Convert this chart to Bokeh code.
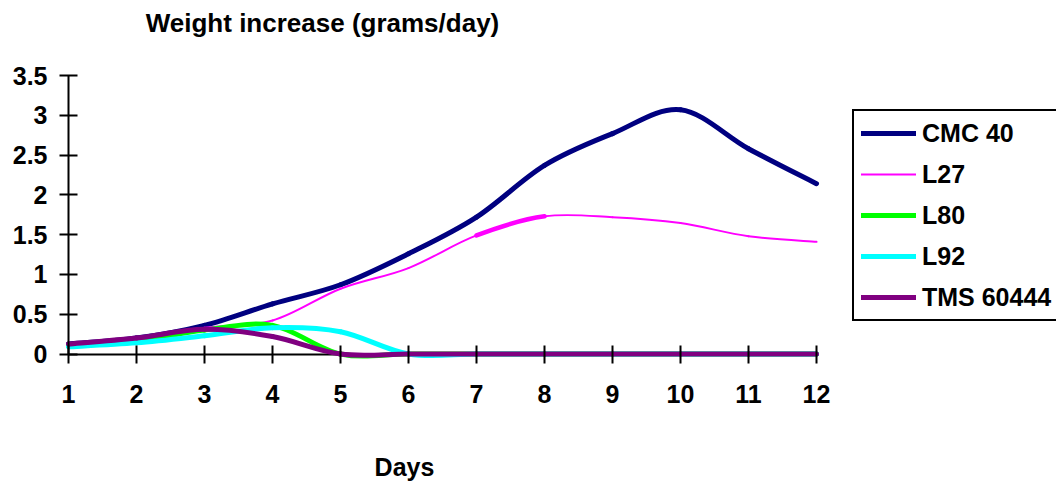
from bokeh.plotting import figure
from bokeh.models import Range1d, FixedTicker, Legend, LegendItem, Label, ColumnDataSource, LinearAxis
from bokeh.embed import file_html
from bokeh.resources import INLINE

# ---- data ----
days = [1, 2, 3, 4, 5, 6, 7, 8, 9, 10, 11, 12]
day_labels = [str(d) for d in days]
y_ticks = [0, 0.5, 1, 1.5, 2, 2.5, 3, 3.5]
y_tick_labels = ["0", "0.5", "1", "1.5", "2", "2.5", "3", "3.5"]
series_names = ["CMC 40", "L27", "L80", "L92", "TMS 60444"]
cmc40 = [0.125, 0.20, 0.36, 0.63, 0.87, 1.26, 1.72, 2.37, 2.77, 3.07, 2.58, 2.14]
l27 = [0.12, 0.18, 0.33, 0.42, 0.82, 1.08, 1.49, 1.73, 1.72, 1.645, 1.48, 1.41]
l80 = [0.10, 0.16, 0.30, 0.36, 0.0, 0.0, 0.0, 0.0, 0.0, 0.0, 0.0, 0.0]
l92 = [0.09, 0.14, 0.23, 0.33, 0.28, 0.0, 0.0, 0.0, 0.0, 0.0, 0.0, 0.0]
tms60444 = [0.125, 0.20, 0.31, 0.22, 0.0, 0.0, 0.0, 0.0, 0.0, 0.0, 0.0, 0.0]
title_text = "Weight increase (grams/day)"
xlabel_text = "Days"

colors = ["#000080", "#FF00FF", "#00FF00", "#00FFFF", "#800080"]
widths = [5, 2, 5, 5, 5]
FONT = "Liberation Sans"


def smooth_segments(xs, ys):
    """Bezier control points for a smoothed line through the data points."""
    n = len(xs)
    px = [xs[0]] + list(xs) + [xs[-1]]
    py = [ys[0]] + list(ys) + [ys[-1]]
    d = dict(x0=[], y0=[], x1=[], y1=[], cx0=[], cy0=[], cx1=[], cy1=[])
    for i in range(n - 1):
        x0, y0 = xs[i], ys[i]
        x1, y1 = xs[i + 1], ys[i + 1]
        xm, ym = px[i], py[i]
        xn, yn = px[i + 3], py[i + 3]
        d["x0"].append(x0); d["y0"].append(y0)
        d["x1"].append(x1); d["y1"].append(y1)
        d["cx0"].append(x0 + (x1 - xm) / 6.0); d["cy0"].append(y0 + (y1 - ym) / 6.0)
        d["cx1"].append(x1 - (xn - x0) / 6.0); d["cy1"].append(y1 - (yn - y0) / 6.0)
    return d


W, H = 1056, 481
# pixel placement of the plot area inside the canvas
x_first_px, x_last_px = 68.0, 816.0
y_zero_px, y_top_px = 353.5, 75.0
px_per_day = (x_last_px - x_first_px) / (days[-1] - days[0])
px_per_unit = (y_zero_px - y_top_px) / y_ticks[-1]
x_start = days[0] - x_first_px / px_per_day
x_end = days[-1] + (W - x_last_px) / px_per_day
y_end = y_ticks[-1] + y_top_px / px_per_unit
y_start = -(H - y_zero_px) / px_per_unit

p = figure(width=W, height=H, output_backend="svg", toolbar_location=None,
           x_range=Range1d(x_start, x_end), y_range=Range1d(y_start, y_end),
           x_axis_location=None, y_axis_location=None,
           min_border=0, min_border_left=0, min_border_right=0,
           min_border_top=0, min_border_bottom=0)
p.outline_line_color = None
p.xgrid.visible = False
p.ygrid.visible = False
p.background_fill_color = "white"
p.border_fill_color = "white"


def style_ticks(ax):
    ax.major_tick_in = 9
    ax.major_tick_out = 9
    ax.major_tick_line_width = 2
    ax.major_tick_line_color = "black"
    ax.minor_tick_line_color = None
    ax.major_label_text_font = FONT
    ax.major_label_text_font_style = "bold"
    ax.major_label_text_font_size = "25px"
    ax.major_label_text_color = "black"


# x axis line underneath the series
xline = LinearAxis(fixed_location=0, bounds=(days[0], days[-1]), level="underlay",
                   ticker=FixedTicker(ticks=[]), axis_line_width=2, axis_line_color="black",
                   major_tick_line_color=None, minor_tick_line_color=None,
                   major_label_text_font_size="0px")
p.add_layout(xline, "below")

# x ticks and labels on top
xa = LinearAxis(fixed_location=0, bounds=(days[0], days[-1]),
                ticker=FixedTicker(ticks=days), axis_line_color=None)
xa.major_label_overrides = {d: l for d, l in zip(days, day_labels)}
style_ticks(xa)
xa.major_label_standoff = 22
p.add_layout(xa, "below")

ya = LinearAxis(fixed_location=days[0], bounds=(y_ticks[0], y_ticks[-1]),
                ticker=FixedTicker(ticks=y_ticks), axis_line_width=2, axis_line_color="black")
ya.major_label_overrides = {t: l for t, l in zip(y_ticks, y_tick_labels)}
style_ticks(ya)
ya.major_label_standoff = 12
p.add_layout(ya, "left")

all_series = [cmc40, l27, l80, l92, tms60444]
legend_items = []
for name, vals, col, lw in zip(series_names, all_series, colors, widths):
    seg = smooth_segments(days, vals)
    seg_w = [lw] * (len(days) - 1)
    if name == "L27":
        seg_w[6] = 4.5
    seg["w"] = seg_w
    src = ColumnDataSource(seg)
    r = p.bezier(x0="x0", y0="y0", x1="x1", y1="y1", cx0="cx0", cy0="cy0",
                 cx1="cx1", cy1="cy1", source=src, line_color=col, line_width="w",
                 line_cap="round")
    legend_items.append(LegendItem(label=name, renderers=[r], index=0))

legend_bottom_px = 321
legend = Legend(items=legend_items,
                location=(852, H - legend_bottom_px),
                border_line_color="black", border_line_width=2, border_line_alpha=1.0,
                background_fill_color="white", background_fill_alpha=1.0,
                padding=7, spacing=11, glyph_width=55, glyph_height=30,
                label_height=30, label_standoff=6, margin=0,
                label_text_font=FONT, label_text_font_style="bold",
                label_text_font_size="25px", label_text_color="black")
p.add_layout(legend)

p.add_layout(Label(x=322, y=H - 22, x_units="screen", y_units="screen",
                   text=title_text, text_align="center", text_baseline="alphabetic",
                   text_font=FONT, text_font_style="bold", text_font_size="26px",
                   text_color="black"))
p.add_layout(Label(x=404, y=H - 466, x_units="screen", y_units="screen",
                   text=xlabel_text, text_align="center", text_baseline="alphabetic",
                   text_font=FONT, text_font_style="bold", text_font_size="25px",
                   text_color="black"))

open("out.html", "w").write(file_html(p, INLINE))
